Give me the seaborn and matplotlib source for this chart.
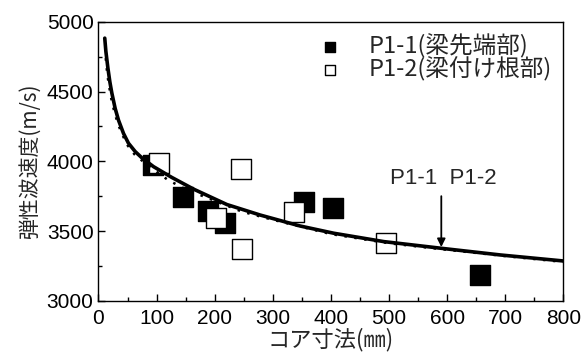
import numpy as np
import pandas as pd
import seaborn as sns
import matplotlib.pyplot as plt
from matplotlib.ticker import MultipleLocator

# P1-1 (梁先端部) - filled squares
p11_x = [94, 146, 188, 218, 353, 404, 657]
p11_y = [3975, 3746, 3647, 3556, 3711, 3665, 3184]

# P1-2 (梁付け根部) - open squares
p12_x = [104, 202, 246, 247, 336, 494]
p12_y = [3988, 3594, 3945, 3371, 3639, 3412]

# fitted curve (solid)
fit_x = [10.8, 12.7, 16.2, 19.6, 23, 28.7, 34.5, 43.1, 51.6, 63.2, 74.7, 94.7,
         126, 164, 221, 278, 347, 405, 491, 590, 692, 800]
fit_y = [4884, 4790, 4670, 4570, 4490, 4380, 4295, 4200, 4130, 4070, 4025, 3962,
         3885, 3800, 3690, 3615, 3536, 3484, 3424, 3376, 3328, 3285]

# second curve (dotted)
dot_x = [12.5, 15, 18, 22, 27, 33, 40, 50, 62, 75, 95, 120, 150, 186, 247, 296,
         400, 500, 600, 700, 800]
dot_y = [4740, 4630, 4545, 4450, 4360, 4275, 4200, 4115, 4050, 4005, 3940, 3865,
         3800, 3740, 3639, 3585, 3478, 3412, 3365, 3320, 3278]

df11 = pd.DataFrame({'x': p11_x, 'y': p11_y})
df12 = pd.DataFrame({'x': p12_x, 'y': p12_y})
dffit = pd.DataFrame({'x': fit_x, 'y': fit_y})
dfdot = pd.DataFrame({'x': dot_x, 'y': dot_y})

sns.set_style("white")
plt.rcParams['font.family'] = ['Liberation Sans', 'Noto Sans CJK JP', 'DejaVu Sans']
jp = ['Noto Sans CJK JP', 'DejaVu Sans']

fig = plt.figure(figsize=(5.82, 3.54), dpi=100)
ax = fig.add_axes([0.1692, 0.1506, 0.7987, 0.7873])

sns.scatterplot(data=df11, x='x', y='y', marker='s', s=200, color='black',
                edgecolor='black', linewidth=1, ax=ax, zorder=3, label='P1-1(梁先端部)')
sns.scatterplot(data=df12, x='x', y='y', marker='s', s=200, color='white',
                edgecolor='black', linewidth=1, ax=ax, zorder=4, label='P1-2(梁付け根部)')
sns.lineplot(data=dfdot, x='x', y='y', color='black', linestyle=(0, (1, 3)),
             linewidth=1.8, ax=ax, zorder=5, legend=False)
sns.lineplot(data=dffit, x='x', y='y', color='black', linewidth=2.6, ax=ax,
             zorder=6, legend=False)

ax.annotate('', xy=(590, 3385), xytext=(590, 3750),
            arrowprops=dict(arrowstyle='-|>', color='black', lw=1.3,
                            mutation_scale=12, shrinkA=0, shrinkB=0))
ax.text(502, 3880, 'P1-1  P1-2', fontsize=16, va='center', ha='left')

ax.set_xlim(0, 800)
ax.set_ylim(3000, 5000)
ax.xaxis.set_major_locator(MultipleLocator(100))
ax.xaxis.set_minor_locator(MultipleLocator(50))
ax.yaxis.set_major_locator(MultipleLocator(500))
ax.yaxis.set_minor_locator(MultipleLocator(250))
ax.tick_params(which='both', direction='in', top=False, right=False,
               bottom=True, left=True, colors='black', labelsize=15, width=1)
ax.tick_params(which='major', length=5)
ax.tick_params(which='minor', length=3)
ax.tick_params(axis='x', pad=6)
for s in ax.spines.values():
    s.set_color('black')
    s.set_linewidth(1)

ax.set_xlabel('コア寸法(㎜)', fontsize=16, family=jp, labelpad=0)
ax.set_ylabel('弾性波速度(m/s)', fontsize=15, family=jp, labelpad=4)

leg = ax.legend(loc='upper right', frameon=False, prop={'family': jp, 'size': 17},
                markerscale=0.55, handletextpad=0.6, labelspacing=-0.05,
                borderaxespad=0.1)

fig.savefig('out.png', dpi=100)
